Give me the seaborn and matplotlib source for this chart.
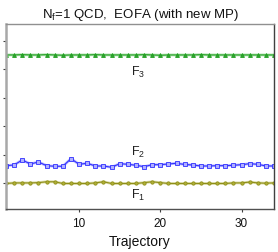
import numpy as np
import pandas as pd
import matplotlib
matplotlib.use("Agg")
import matplotlib.pyplot as plt
import seaborn as sns

traj = list(range(1, 35))
f1 = [0.00, 0.02, 0.02, 0.02, 0.03, 0.06, 0.06, 0.00, 0.00, 0.00, 0.00, 0.02,
      0.06, 0.00, 0.00, 0.00, 0.00, 0.03, 0.06, 0.03, 0.00, 0.00, 0.00, 0.00,
      0.00, 0.00, 0.00, 0.00, 0.02, 0.02, 0.05, 0.02, 0.01, 0.02]
f2 = [0.625, 0.649, 0.825, 0.684, 0.754, 0.625, 0.604, 0.604, 0.870, 0.674,
      0.709, 0.614, 0.614, 0.568, 0.695, 0.674, 0.639, 0.589, 0.660, 0.660,
      0.684, 0.709, 0.667, 0.649, 0.614, 0.614, 0.625, 0.625, 0.639, 0.660,
      0.695, 0.674, 0.614, 0.614]
f3 = [4.51, 4.51, 4.52, 4.51, 4.51, 4.52, 4.51, 4.50, 4.51, 4.51, 4.51, 4.52,
      4.51, 4.51, 4.51, 4.51, 4.51, 4.52, 4.51, 4.50, 4.51, 4.51, 4.51, 4.51,
      4.52, 4.51, 4.51, 4.51, 4.51, 4.51, 4.51, 4.51, 4.51, 4.51]
series_names = ["F1", "F2", "F3"]
label_text = ["F$_1$", "F$_2$", "F$_3$"]
title = "N$_f$=1 QCD,  EOFA (with new MP)"
xlabel = "Trajectory"
xticks = [10, 20, 30]

df = pd.DataFrame({
    "Trajectory": traj * 3,
    "value": f1 + f2 + f3,
    "series": sum([[s] * len(traj) for s in series_names], []),
})

sns.set_theme(style="white")
plt.rcParams["font.family"] = ["Liberation Sans", "DejaVu Sans"]
plt.rcParams["mathtext.fontset"] = "custom"
plt.rcParams["mathtext.rm"] = "Liberation Sans"
plt.rcParams["mathtext.it"] = "Liberation Sans"
plt.rcParams["text.color"] = "#111111"
plt.rcParams["axes.labelcolor"] = "#111111"
plt.rcParams["xtick.color"] = "#404040"
plt.rcParams["xtick.labelcolor"] = "#111111"

fig = plt.figure(figsize=(2.78, 2.53), dpi=100)
ax = fig.add_axes([6 / 278, 1 - 210 / 253, 268 / 278, 185 / 253])

styles = {
    "F1": dict(color="#8e8e18", halo="#c4c46a", marker="o", ms=2.4, mfc="#b0b038"),
    "F2": dict(color="#3030ff", halo="#9090ff", marker="s", ms=2.6, mfc="#b0b0ff"),
    "F3": dict(color="#20a020", halo="#80d080", marker="^", ms=2.8, mfc="#30a030"),
}
for s in series_names:
    st = styles[s]
    sub = df[df["series"] == s]
    sns.lineplot(data=sub, x="Trajectory", y="value", ax=ax, color=st["halo"],
                 linewidth=2.0, alpha=0.6, legend=False)
    sns.lineplot(data=sub, x="Trajectory", y="value", ax=ax, color=st["color"],
                 linewidth=0.8, marker=st["marker"], markersize=st["ms"],
                 markerfacecolor=st["mfc"], markeredgecolor=st["color"],
                 markeredgewidth=0.6, legend=False)

ax.set_xlim(1, 34)
ax.set_ylim(-0.895, 5.596)
ax.set_xticks(xticks)
ax.set_xticklabels([str(t) for t in xticks], fontsize=8.5, color="#111111")
ax.set_yticks([0, 1, 2, 3, 4, 5])
ax.set_yticklabels([])
ax.tick_params(axis="both", direction="out", length=2.5, width=0.8,
               color="#404040", left=True, bottom=True, pad=3)
ax.set_xlabel(xlabel, fontsize=10, labelpad=4, color="#111111")
ax.set_ylabel("")
ax.set_title(title, fontsize=9.5, pad=5, color="#111111")

for sp, c, w in [("left", "#a8a8a8", 1.8), ("top", "#909090", 1.0),
                 ("right", "#404040", 1.0), ("bottom", "#505050", 1.0)]:
    ax.spines[sp].set_color(c)
    ax.spines[sp].set_linewidth(w)

label_pos = [(17.3, -0.40), (17.3, 1.14), (17.3, 3.92)]
for t, (x, y) in zip(label_text, label_pos):
    ax.text(x, y, t, fontsize=9, ha="center", va="center", color="#202020")

fig.savefig("out.png", dpi=100)
